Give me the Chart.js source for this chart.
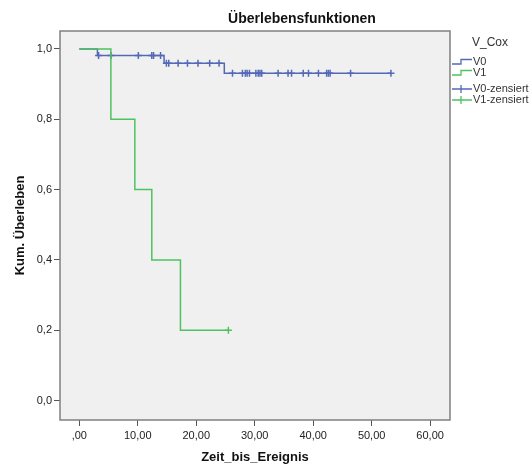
<!DOCTYPE html>
<html><head><meta charset="utf-8">
<script src="https://cdn.jsdelivr.net/npm/chart.js@4"></script>
<style>html,body{margin:0;padding:0;background:#fff}#wrap{width:531px;height:468px;position:relative}</style>
</head><body><div id="wrap"><canvas id="c" width="531" height="468"></canvas></div>
<script>
const titleText = "Überlebensfunktionen";
const xTitle = "Zeit_bis_Ereignis";
const yTitle = "Kum. Überleben";
const legendTitle = "V_Cox";
const seriesNames = ["V0", "V1"];
const censorNames = ["V0-zensiert", "V1-zensiert"];

const v0StepTimes = [0, 3.1, 14.5, 24.8];
const v0StepSurv = [1.0, 0.981, 0.959, 0.931];
const v0EndTime = 53.3;
const v0CensorTimes = [3.3, 5.4, 10.1, 12.4, 12.7, 13.9, 14.9, 15.3, 16.9, 18.5, 20.3, 22.3, 23.9,
  26.2, 27.9, 28.4, 28.7, 29.1, 30.2, 30.6, 30.9, 31.2, 34.0, 35.7, 36.3, 38.3, 39.2, 40.9,
  42.3, 42.6, 42.9, 46.4, 53.3];

const v1StepTimes = [0, 5.4, 9.5, 12.4, 17.3];
const v1StepSurv = [1.0, 0.8, 0.6, 0.4, 0.2];
const v1EndTime = 25.5;
const v1CensorTimes = [25.5];

const xTickValues = [0, 10, 20, 30, 40, 50, 60];
const xTickLabels = [",00", "10,00", "20,00", "30,00", "40,00", "50,00", "60,00"];
const yTickValues = [0, 0.2, 0.4, 0.6, 0.8, 1.0];
const yTickLabels = ["0,0", "0,2", "0,4", "0,6", "0,8", "1,0"];

const BLUE = "#5468B8";
const GREEN = "#4EC25F";

function survAt(times, surv, t) {
  let s = surv[0];
  for (let i = 0; i < times.length; i++) if (times[i] <= t) s = surv[i];
  return s;
}
function stepLine(times, surv, end) {
  const pts = times.map((t, i) => ({x: t, y: surv[i]}));
  pts.push({x: end, y: surv[surv.length - 1]});
  return pts;
}
function censorPts(ct, times, surv) {
  return ct.map(t => ({x: t, y: survAt(times, surv, t)}));
}

Chart.defaults.font.family = "'Liberation Sans', Arial, sans-serif";
Chart.defaults.color = "#222";

const deco = {
  id: "deco",
  beforeDatasetsDraw(chart) {
    const {ctx, chartArea: a} = chart;
    ctx.save();
    ctx.fillStyle = "#F0F0F0";
    ctx.fillRect(a.left, a.top, a.right - a.left, a.bottom - a.top);
    ctx.strokeStyle = "#808080";
    ctx.lineWidth = 1.5;
    ctx.strokeRect(a.left, a.top, a.right - a.left, a.bottom - a.top);
    ctx.restore();
  },
  afterDraw(chart) {
    const {ctx} = chart;
    ctx.save();
    ctx.fillStyle = "#111";
    ctx.font = "bold 14px 'Liberation Sans', Arial, sans-serif";
    ctx.textAlign = "center";
    ctx.textBaseline = "alphabetic";
    ctx.fillText(titleText, 302, 23);
    // legend
    ctx.textAlign = "left";
    ctx.fillStyle = "#333";
    ctx.font = "12px 'Liberation Sans', Arial, sans-serif";
    ctx.textBaseline = "middle";
    ctx.fillText(legendTitle, 472, 43);
    ctx.font = "11px 'Liberation Sans', Arial, sans-serif";
    const rows = [
      {label: seriesNames[0], color: BLUE, y: 62, kind: "step"},
      {label: seriesNames[1], color: GREEN, y: 73, kind: "step"},
      {label: censorNames[0], color: BLUE, y: 89, kind: "cross"},
      {label: censorNames[1], color: GREEN, y: 100, kind: "cross"}
    ];
    rows.forEach(r => {
      ctx.strokeStyle = r.color;
      ctx.lineWidth = 1.3;
      ctx.beginPath();
      if (r.kind === "step") {
        ctx.moveTo(452, r.y + 2);
        ctx.lineTo(461, r.y + 2);
        ctx.lineTo(461, r.y - 2.5);
        ctx.lineTo(472, r.y - 2.5);
      } else {
        ctx.moveTo(452, r.y);
        ctx.lineTo(472, r.y);
        ctx.moveTo(461, r.y - 4);
        ctx.lineTo(461, r.y + 4);
      }
      ctx.stroke();
      ctx.fillStyle = "#333";
      ctx.fillText(r.label, 473, r.y);
    });
    ctx.restore();
  }
};

new Chart(document.getElementById("c"), {
  type: "scatter",
  data: {
    datasets: [
      {label: censorNames[1], data: censorPts(v1CensorTimes, v1StepTimes, v1StepSurv), showLine: false,
        pointStyle: "cross", pointRadius: 3.5, borderColor: GREEN, borderWidth: 1.5, order: 0},
      {label: seriesNames[1], data: stepLine(v1StepTimes, v1StepSurv, v1EndTime), showLine: true, stepped: "before",
        borderColor: GREEN, borderWidth: 1.5, pointRadius: 0, order: 1},
      {label: censorNames[0], data: censorPts(v0CensorTimes, v0StepTimes, v0StepSurv), showLine: false,
        pointStyle: "cross", pointRadius: 3.5, borderColor: BLUE, borderWidth: 1.5, order: 2},
      {label: seriesNames[0], data: stepLine(v0StepTimes, v0StepSurv, v0EndTime), showLine: true, stepped: "before",
        borderColor: BLUE, borderWidth: 1.5, pointRadius: 0, order: 3}
    ]
  },
  options: {
    responsive: false,
    animation: false,
    events: [],
    layout: {padding: {left: 0, right: 81, top: 31, bottom: 0}},
    plugins: {legend: {display: false}, tooltip: {enabled: false}, title: {display: false}},
    scales: {
      x: {
        type: "linear", min: -3.3, max: 63.4,
        afterBuildTicks: s => { s.ticks = xTickValues.map(v => ({value: v})); },
        afterFit: s => { s.height = 48; },
        ticks: {callback: v => xTickLabels[xTickValues.indexOf(v)], font: {size: 11}, color: "#222", padding: 3, maxRotation: 0, autoSkip: false},
        grid: {drawOnChartArea: false, drawTicks: true, tickLength: 6, tickColor: "#555", color: "#555"},
        border: {display: false},
        title: {display: true, text: xTitle, font: {size: 13, weight: "bold"}, color: "#111", padding: {top: 0, bottom: 3}}
      },
      y: {
        type: "linear", min: -0.055, max: 1.051,
        afterBuildTicks: s => { s.ticks = yTickValues.map(v => ({value: v})); },
        afterFit: s => { s.width = 60; },
        ticks: {callback: v => yTickLabels[yTickValues.findIndex(t => Math.abs(t - v) < 1e-9)], font: {size: 11}, color: "#222", padding: 2, autoSkip: false},
        grid: {drawOnChartArea: false, drawTicks: true, tickLength: 6, tickColor: "#555", color: "#555"},
        border: {display: false},
        title: {display: true, text: yTitle, font: {size: 13, weight: "bold"}, color: "#111", padding: {top: 13, bottom: 0}}
      }
    }
  },
  plugins: [deco]
});
</script></body></html>
